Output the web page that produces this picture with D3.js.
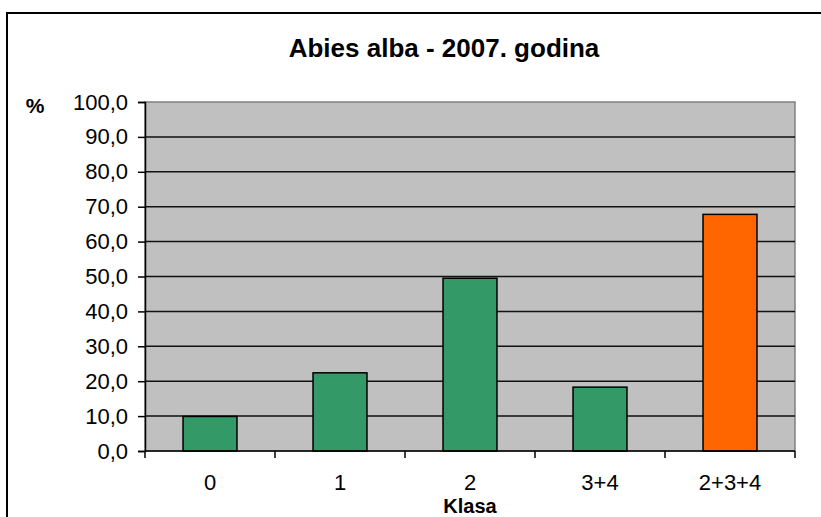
<!DOCTYPE html>
<html>
<head>
<meta charset="utf-8">
<script src="https://cdn.jsdelivr.net/npm/d3@7"></script>
<style>
  body { margin: 0; background: #fff; }
  svg { display: block; font-family: Arial, "Liberation Sans", sans-serif; }
</style>
</head>
<body>
<svg id="chart" width="821" height="517"></svg>
<script>
// data
var categories = ["0", "1", "2", "3+4", "2+3+4"];
var values = [9.9, 22.4, 49.5, 18.3, 67.8];
var barColors = ["#339966", "#339966", "#339966", "#339966", "#FF6600"];
var yTicks = [0, 10, 20, 30, 40, 50, 60, 70, 80, 90, 100];

var svg = d3.select("#chart");
var plotLeft = 145, plotRight = 795, plotTop = 102, plotBottom = 451;

// outer chart frame (runs off the right and bottom edge)
svg.append("rect")
    .attr("x", 7).attr("y", 13)
    .attr("width", 900).attr("height", 600)
    .attr("fill", "none").attr("stroke", "#000").attr("stroke-width", 2);

var x = d3.scaleBand().domain(categories).range([plotLeft, plotRight]).padding(0);
var y = d3.scaleLinear().domain([0, 100]).range([plotBottom, plotTop]);

// plot area
svg.append("rect")
    .attr("x", plotLeft).attr("y", plotTop)
    .attr("width", plotRight - plotLeft).attr("height", plotBottom - plotTop)
    .attr("fill", "#C0C0C0").attr("stroke", "#808080").attr("stroke-width", 1.5);

// gridlines
svg.append("g")
    .selectAll("line")
    .data(yTicks.filter(function(d) { return d > 0 && d < 100; }))
    .enter().append("line")
    .attr("x1", plotLeft).attr("x2", plotRight)
    .attr("y1", function(d) { return y(d); })
    .attr("y2", function(d) { return y(d); })
    .attr("stroke", "#111").attr("stroke-width", 1.5);

// bars
var barW = x.bandwidth() * 0.415;
svg.append("g")
    .selectAll("rect")
    .data(values)
    .enter().append("rect")
    .attr("x", function(d, i) { return x(categories[i]) + x.bandwidth() / 2 - barW / 2; })
    .attr("y", function(d) { return y(d); })
    .attr("width", barW)
    .attr("height", function(d) { return y(0) - y(d); })
    .attr("fill", function(d, i) { return barColors[i]; })
    .attr("stroke", "#000").attr("stroke-width", 1.5);

// y axis
var yAxis = svg.append("g")
    .attr("transform", "translate(" + plotLeft + ",0)")
    .call(d3.axisLeft(y).tickValues(yTicks).tickSize(7).tickPadding(10)
        .tickFormat(function(d) { return d3.format(".1f")(d).replace(".", ","); }));
yAxis.select(".domain").attr("stroke", "#000").attr("stroke-width", 1.5);
yAxis.selectAll(".tick line").attr("stroke", "#000").attr("stroke-width", 1.5);
yAxis.selectAll("text")
    .attr("font-size", 22).attr("fill", "#000")
    .attr("font-family", "Arial, 'Liberation Sans', sans-serif");

// x axis: ticks on category boundaries
var boundaries = categories.map(function(c) { return x(c); }).concat([plotRight]);
var xAxis = svg.append("g");
xAxis.append("line")
    .attr("x1", plotLeft).attr("x2", plotRight)
    .attr("y1", plotBottom).attr("y2", plotBottom)
    .attr("stroke", "#000").attr("stroke-width", 1.5);
xAxis.selectAll(".tk")
    .data(boundaries)
    .enter().append("line")
    .attr("class", "tk")
    .attr("x1", function(d) { return d; }).attr("x2", function(d) { return d; })
    .attr("y1", plotBottom).attr("y2", plotBottom + 7)
    .attr("stroke", "#000").attr("stroke-width", 1.5);
xAxis.selectAll("text")
    .data(categories)
    .enter().append("text")
    .attr("x", function(d) { return x(d) + x.bandwidth() / 2; })
    .attr("y", 490)
    .attr("text-anchor", "middle")
    .attr("font-size", 22)
    .text(function(d) { return d; });

// titles
svg.append("text")
    .attr("x", 444).attr("y", 57)
    .attr("text-anchor", "middle")
    .attr("font-size", 26).attr("font-weight", "bold")
    .text("Abies alba - 2007. godina");

svg.append("text")
    .attr("x", 35).attr("y", 113)
    .attr("text-anchor", "middle")
    .attr("font-size", 21).attr("font-weight", "bold")
    .text("%");

svg.append("text")
    .attr("x", (plotLeft + plotRight) / 2).attr("y", 513)
    .attr("text-anchor", "middle")
    .attr("font-size", 20).attr("font-weight", "bold")
    .text("Klasa");
</script>
</body>
</html>
